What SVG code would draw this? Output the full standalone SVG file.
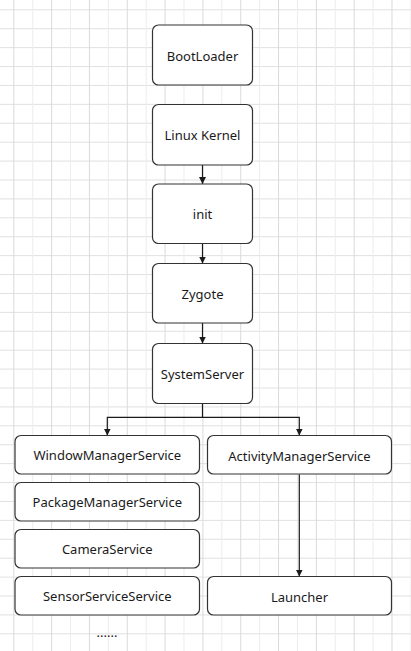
<svg xmlns="http://www.w3.org/2000/svg" width="411" height="651" viewBox="0 0 411 651">
<defs>
<pattern id="gridV" x="13.3" y="0" width="37.82" height="651" patternUnits="userSpaceOnUse">
<line x1="0.5" y1="0" x2="0.5" y2="651" stroke="#dadada" stroke-width="1"/>
<line x1="19.41" y1="0" x2="19.41" y2="651" stroke="#ececec" stroke-width="1"/>
</pattern>
<pattern id="gridH" x="0" y="9.3" width="411" height="18.91" patternUnits="userSpaceOnUse">
<line x1="0" y1="0.5" x2="411" y2="0.5" stroke="#e0e0e0" stroke-width="1"/>
</pattern>
<marker id="arr" viewBox="0 0 10 10" refX="10" refY="5" markerWidth="7" markerHeight="7" markerUnits="userSpaceOnUse" orient="auto">
<path d="M0,0 L10,5 L0,10 Z" fill="#1a1a1a"/>
</marker>
</defs>
<style>
.n rect{fill:#ffffff;stroke:#333333;stroke-width:1.2}
.n text{font-family:"Noto Sans","Liberation Sans",sans-serif;font-size:13px;fill:#1a1a1a;text-anchor:middle;dominant-baseline:central}
.c path{fill:none;stroke:#1a1a1a;stroke-width:1.2}
.dots{font-family:"Noto Sans","Liberation Sans",sans-serif;font-size:13px;fill:#1a1a1a;text-anchor:middle}
</style>
<rect width="411" height="651" fill="#ffffff"/>
<rect width="411" height="651" fill="url(#gridH)"/>
<rect width="411" height="651" fill="url(#gridV)"/>

<g id="connectors" class="c">
<path d="M202.5,165 V184" marker-end="url(#arr)"/>
<path d="M202.5,243.5 V263.5" marker-end="url(#arr)"/>
<path d="M202.5,323 V343.5" marker-end="url(#arr)"/>
<path d="M202.5,403.5 V417.3 H107.3 V435.5" marker-end="url(#arr)"/>
<path d="M202.5,417.3 H299.3 V435.5" marker-end="url(#arr)"/>
<path d="M299.3,474.5 V576.5" marker-end="url(#arr)"/>
</g>

<g id="bootloader" class="n"><rect x="152.5" y="25" width="100" height="60" rx="6"/><text x="202.5" y="55.5">BootLoader</text></g>
<g id="linux-kernel" class="n"><rect x="152.5" y="104.5" width="100" height="60.5" rx="6"/><text x="202.5" y="135">Linux Kernel</text></g>
<g id="init" class="n"><rect x="152.5" y="184" width="100" height="59.5" rx="6"/><text x="202.5" y="214">init</text></g>
<g id="zygote" class="n"><rect x="152.5" y="263.5" width="100" height="59.5" rx="6"/><text x="202.5" y="294">Zygote</text></g>
<g id="systemserver" class="n"><rect x="152.5" y="343.5" width="100" height="60" rx="6"/><text x="202.5" y="374">SystemServer</text></g>
<g id="wms" class="n"><rect x="15" y="435.5" width="184.5" height="38.5" rx="6"/><text x="107.3" y="455">WindowManagerService</text></g>
<g id="pms" class="n"><rect x="15" y="482.5" width="184.5" height="38.5" rx="6"/><text x="107.3" y="502">PackageManagerService</text></g>
<g id="camera" class="n"><rect x="15" y="529.5" width="184.5" height="38.5" rx="6"/><text x="107.3" y="549">CameraService</text></g>
<g id="sensor" class="n"><rect x="15" y="576.5" width="184.5" height="38.5" rx="6"/><text x="107.3" y="596">SensorServiceService</text></g>
<g id="ams" class="n"><rect x="207.5" y="435.5" width="184" height="38.5" rx="6"/><text x="299.5" y="455.5">ActivityManagerService</text></g>
<g id="launcher" class="n"><rect x="207.5" y="576.5" width="184" height="38.5" rx="6"/><text x="299.5" y="596.5">Launcher</text></g>
<text class="dots" x="107" y="637">......</text>
</svg>
